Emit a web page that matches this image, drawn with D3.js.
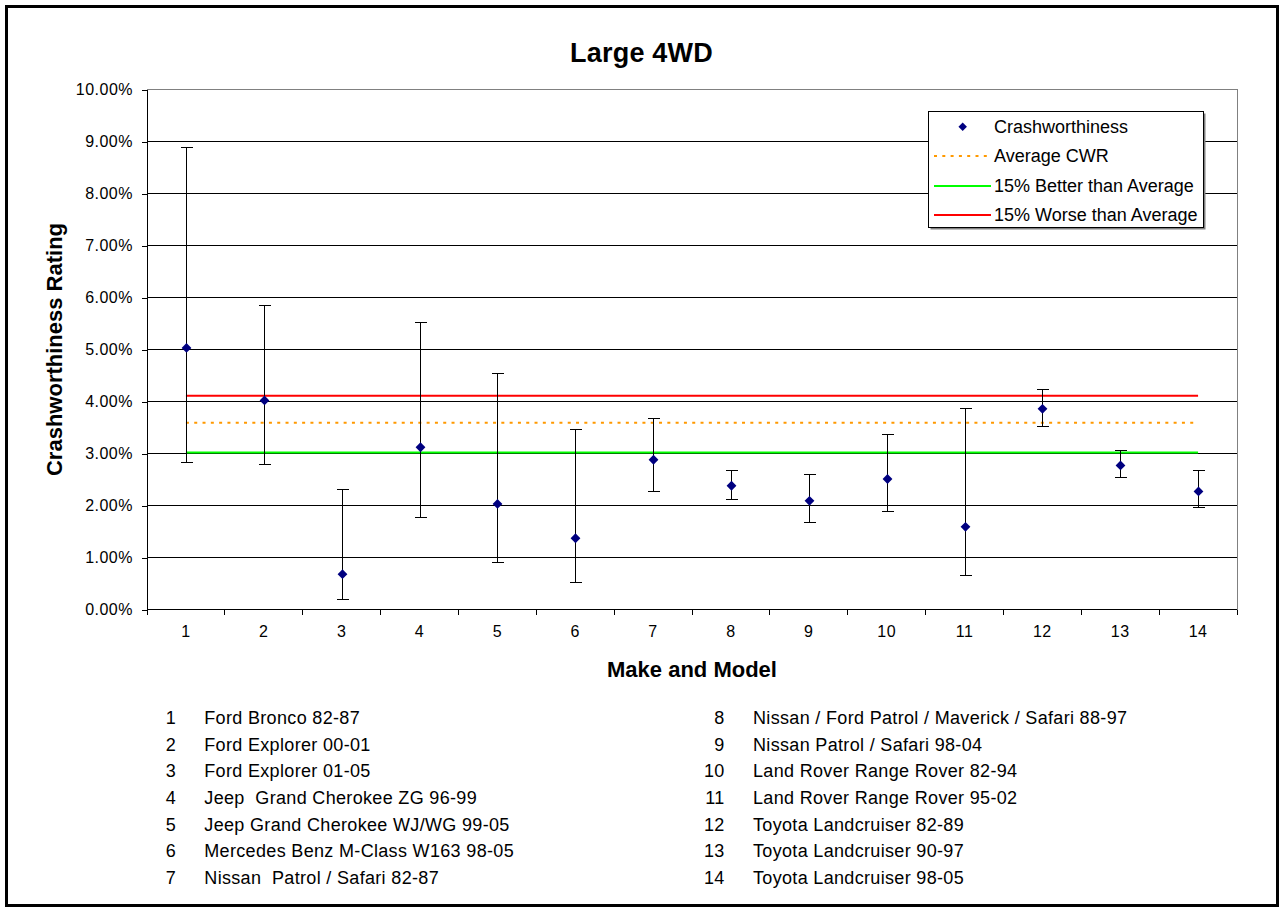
<!DOCTYPE html>
<html>
<head>
<meta charset="utf-8">
<script src="https://cdn.jsdelivr.net/npm/d3@7"></script>
<style>
  html, body { margin: 0; padding: 0; background: #fff; }
  svg { display: block; font-family: "Liberation Sans", Arial, sans-serif; }
</style>
</head>
<body>
<svg id="chart" width="1285" height="913"></svg>
<script>
// ---- data ----
const categories = [1, 2, 3, 4, 5, 6, 7, 8, 9, 10, 11, 12, 13, 14];
const crashworthiness = [5.03, 4.02, 0.68, 3.12, 2.03, 1.37, 2.88, 2.38, 2.09, 2.51, 1.59, 3.86, 2.77, 2.27];
const upperLimit = [8.89, 5.84, 2.30, 5.52, 4.53, 3.47, 3.68, 2.67, 2.59, 3.36, 3.86, 4.24, 3.05, 2.68];
const lowerLimit = [2.83, 2.78, 0.20, 1.77, 0.91, 0.52, 2.27, 2.11, 1.68, 1.88, 0.65, 3.52, 2.54, 1.96];
const averageCWR = 3.59;
const betterThanAverage = 3.02;
const worseThanAverage = 4.11;
const yTicks = [0, 1, 2, 3, 4, 5, 6, 7, 8, 9, 10];
const modelNames = [
  "Ford Bronco 82-87",
  "Ford Explorer 00-01",
  "Ford Explorer 01-05",
  "Jeep  Grand Cherokee ZG 96-99",
  "Jeep Grand Cherokee WJ/WG 99-05",
  "Mercedes Benz M-Class W163 98-05",
  "Nissan  Patrol / Safari 82-87",
  "Nissan / Ford Patrol / Maverick / Safari 88-97",
  "Nissan Patrol / Safari 98-04",
  "Land Rover Range Rover 82-94",
  "Land Rover Range Rover 95-02",
  "Toyota Landcruiser 82-89",
  "Toyota Landcruiser 90-97",
  "Toyota Landcruiser 98-05"
];
const legendItems = ["Crashworthiness", "Average CWR", "15% Better than Average", "15% Worse than Average"];

// ---- layout ----
const svg = d3.select("#chart");
const plot = { left: 147, right: 1237, top: 89.5, bottom: 609.5 };

const x = d3.scaleBand().domain(categories).range([plot.left, plot.right]).padding(0);
const cx = c => x(c) + x.bandwidth() / 2;
const y = d3.scaleLinear().domain([0, 10]).range([plot.bottom, plot.top]);

// outer border
svg.append("rect")
  .attr("x", 6.5).attr("y", 6.5).attr("width", 1271).attr("height", 899)
  .attr("fill", "#fff").attr("stroke", "#000").attr("stroke-width", 3);

// plot area border
svg.append("rect")
  .attr("x", plot.left).attr("y", plot.top)
  .attr("width", plot.right - plot.left).attr("height", plot.bottom - plot.top)
  .attr("fill", "#fff").attr("stroke", "#808080").attr("stroke-width", 1)
  .attr("shape-rendering", "crispEdges");

// gridlines
svg.append("g").selectAll("line")
  .data(yTicks.filter(t => t > 0 && t < 10))
  .join("line")
  .attr("x1", plot.left).attr("x2", plot.right)
  .attr("y1", d => y(d)).attr("y2", d => y(d))
  .attr("stroke", "#000").attr("stroke-width", 1)
  .attr("shape-rendering", "crispEdges");

// y axis
const yAxis = d3.axisLeft(y).tickValues(yTicks).tickSize(5).tickPadding(9)
  .tickFormat(d => d.toFixed(2) + "%");
const gy = svg.append("g").attr("transform", `translate(${plot.left},0)`).call(yAxis);
gy.select(".domain").attr("stroke", "#000").attr("shape-rendering", "crispEdges");
gy.selectAll(".tick line").attr("stroke", "#000").attr("shape-rendering", "crispEdges");
gy.selectAll(".tick text")
  .attr("font-size", 16).attr("fill", "#000").attr("font-family", "Liberation Sans, Arial, sans-serif")
  .attr("letter-spacing", 0.5).attr("dy", "0.32em");

// x axis line and boundary ticks
const gx = svg.append("g");
gx.append("line")
  .attr("x1", plot.left).attr("x2", plot.right)
  .attr("y1", plot.bottom).attr("y2", plot.bottom)
  .attr("stroke", "#000").attr("shape-rendering", "crispEdges");
const boundaries = categories.map(c => x(c)).concat([x(categories[categories.length - 1]) + x.bandwidth()]);
gx.selectAll("line.tk").data(boundaries).join("line").attr("class", "tk")
  .attr("x1", d => d).attr("x2", d => d)
  .attr("y1", plot.bottom).attr("y2", plot.bottom + 5)
  .attr("stroke", "#000").attr("shape-rendering", "crispEdges");
gx.selectAll("text").data(categories).join("text")
  .attr("x", d => cx(d)).attr("y", 637)
  .attr("text-anchor", "middle").attr("font-size", 16).attr("letter-spacing", 0.5)
  .text(d => d);

// reference lines
const refLine = (val, color, dash) => {
  const l = svg.append("line")
    .attr("x1", cx(categories[0])).attr("x2", cx(categories[categories.length - 1]))
    .attr("y1", y(val)).attr("y2", y(val))
    .attr("stroke", color).attr("stroke-width", 2);
  if (dash) l.attr("stroke-dasharray", dash);
};
refLine(worseThanAverage, "#FF0000");
refLine(betterThanAverage, "#00FF00");
refLine(averageCWR, "#FF9900", "3,5.3");

// error bars
const eb = svg.append("g").attr("stroke", "#000").attr("stroke-width", 1).attr("shape-rendering", "crispEdges");
categories.forEach((c, i) => {
  const xc = Math.round(cx(c)) + 0.5;
  eb.append("line").attr("x1", xc).attr("x2", xc).attr("y1", y(upperLimit[i])).attr("y2", y(lowerLimit[i]));
  eb.append("line").attr("x1", xc - 6).attr("x2", xc + 6).attr("y1", y(upperLimit[i])).attr("y2", y(upperLimit[i]));
  eb.append("line").attr("x1", xc - 6).attr("x2", xc + 6).attr("y1", y(lowerLimit[i])).attr("y2", y(lowerLimit[i]));
});

// diamond markers
const squareDiamond = {
  draw(context, size) {
    const r = Math.sqrt(size / 2);
    context.moveTo(0, -r); context.lineTo(r, 0); context.lineTo(0, r); context.lineTo(-r, 0); context.closePath();
  }
};
svg.append("g").selectAll("path").data(categories).join("path")
  .attr("transform", (d, i) => `translate(${Math.round(cx(d)) + 0.5},${y(crashworthiness[i])})`)
  .attr("d", d3.symbol().type(squareDiamond).size(48))
  .attr("fill", "#000080");

// legend
const lg = svg.append("g");
lg.append("rect").attr("x", 930.5).attr("y", 113.5).attr("width", 275).attr("height", 116)
  .attr("fill", "#808080");
lg.append("rect").attr("x", 928.5).attr("y", 111.5).attr("width", 275).attr("height", 116)
  .attr("fill", "#fff").attr("stroke", "#000").attr("stroke-width", 1);
const rowY = [126.7, 156, 186, 215];
lg.append("path")
  .attr("transform", `translate(962.7,${rowY[0]})`)
  .attr("d", d3.symbol().type(squareDiamond).size(36))
  .attr("fill", "#000080");
const legLine = (yy, color, dash) => {
  const l = lg.append("line").attr("x1", 934).attr("x2", 991).attr("y1", yy).attr("y2", yy)
    .attr("stroke", color).attr("stroke-width", 2);
  if (dash) l.attr("stroke-dasharray", dash);
};
legLine(rowY[1], "#FF9900", "3,5.3");
legLine(rowY[2], "#00FF00");
legLine(rowY[3], "#FF0000");
lg.selectAll("text").data(legendItems).join("text")
  .attr("x", 994).attr("y", (d, i) => rowY[i] + 6)
  .attr("font-size", 18).text(d => d);

// titles
svg.append("text").attr("x", 641.5).attr("y", 62).attr("text-anchor", "middle")
  .attr("font-size", 27).attr("font-weight", "bold").attr("letter-spacing", 0.2).text("Large 4WD");
svg.append("text").attr("x", 692).attr("y", 677).attr("text-anchor", "middle")
  .attr("font-size", 22).attr("font-weight", "bold").text("Make and Model");
svg.append("text")
  .attr("transform", `translate(62,${(plot.top + plot.bottom) / 2}) rotate(-90)`)
  .attr("text-anchor", "middle")
  .attr("font-size", 22).attr("font-weight", "bold").text("Crashworthiness Rating");

// model list
const list = svg.append("g").attr("font-size", 18);
modelNames.forEach((name, i) => {
  const col = i < 7 ? 0 : 1;
  const row = i % 7;
  const yy = 724 + row * 26.67;
  list.append("text").attr("x", col === 0 ? 176 : 724.5).attr("y", yy)
    .attr("text-anchor", "end").attr("letter-spacing", 0.3).text(categories[i]);
  list.append("text").attr("x", col === 0 ? 204.3 : 753).attr("y", yy)
    .attr("letter-spacing", 0.33)
    .attr("xml:space", "preserve").style("white-space", "pre").text(name);
});
</script>
</body>
</html>
